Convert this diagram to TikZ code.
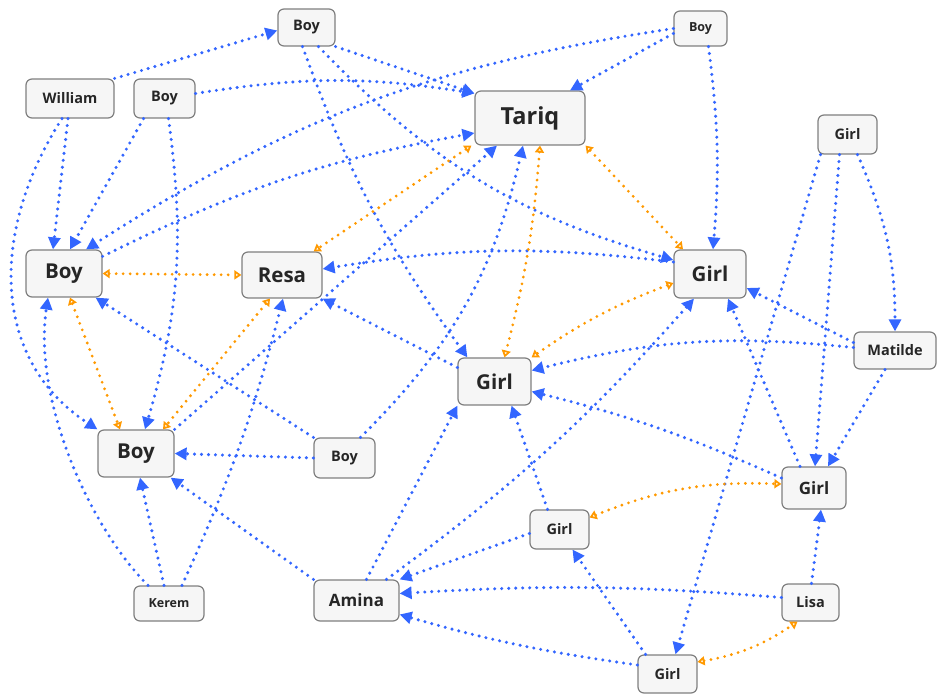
\documentclass[tikz,border=0pt]{standalone}
\usepackage{fontspec}
\setmainfont{Open Sans}
\usetikzlibrary{arrows.meta}

\definecolor{linkblue}{HTML}{3366FF}
\definecolor{pairorange}{HTML}{FF9900}
\definecolor{boxline}{HTML}{7F7F7F}
\definecolor{boxfill}{HTML}{F6F6F6}
\definecolor{boxtext}{HTML}{262626}

\begin{document}
\begin{tikzpicture}
   [x=1pt,y=1pt,
    person/.style={rectangle,rounded corners=6pt,draw=boxline,line width=1.2pt,
      fill=boxfill,text=boxtext,inner sep=0pt},
    dims/.style 2 args={minimum width=#1pt,minimum height=#2pt},
    tiny/.style={font=\bfseries\fontsize{12.5}{14}\selectfont},
    small/.style={font=\bfseries\fontsize{14.5}{16}\selectfont},
    mid/.style={font=\bfseries\fontsize{17}{19}\selectfont},
    big/.style={font=\bfseries\fontsize{20.5}{23}\selectfont},
    huge/.style={font=\bfseries\fontsize{23.5}{26}\selectfont},
    link/.style={>={Triangle[length=12pt,width=12pt]},->,draw=linkblue,
      line width=3.4pt,line cap=round,dash pattern=on 0pt off 7pt},
    pair/.style={>={Triangle[open,length=7pt,width=9pt,line width=2.2pt]},<->,
      draw=pairorange,line width=3.1pt,line cap=round,dash pattern=on 0pt off 7pt}]

\useasboundingbox (0,0) rectangle (937,694);

\node [person,small,dims={57}{37}] (boy1) at (306.5,666.5) {Boy};
\node [person,tiny,dims={53}{35}] (boy2) at (700.5,665.5) {Boy};
\node [person,small,dims={88}{39}] (william) at (70,595.5) {William};
\node [person,small,dims={61}{39}] (boy3) at (164.5,595.5) {Boy};
\node [person,huge,dims={110}{54}] (tariq) at (530,576) {Tariq};
\node [person,small,dims={59}{39}] (girl1) at (847.5,559.5) {Girl};
\node [person,big,dims={76}{47}] (boy4) at (64,420.5) {Boy};
\node [person,big,dims={80}{46}] (resa) at (282,419) {Resa};
\node [person,big,dims={72}{48}] (girl2) at (710,420) {Girl};
\node [person,small,dims={82}{37}] (matilde) at (895,343.5) {Matilde};
\node [person,big,dims={73}{47}] (girl3) at (494.5,312.5) {Girl};
\node [person,big,dims={76}{47}] (boy5) at (136,240.5) {Boy};
\node [person,small,dims={61}{40}] (boy6) at (344.5,236) {Boy};
\node [person,mid,dims={64}{42}] (girl4) at (814,206) {Girl};
\node [person,small,dims={59}{39}] (girl5) at (559.5,164.5) {Girl};
\node [person,tiny,dims={70}{35}] (kerem) at (169,90.5) {Kerem};
\node [person,mid,dims={85}{41}] (amina) at (356.5,93.5) {Amina};
\node [person,small,dims={57}{37}] (lisa) at (810.5,91.5) {Lisa};
\node [person,small,dims={59}{38}] (girl6) at (667.5,20) {Girl};

% who points at whom
\draw [link] (william.north east) -- ([yshift=-3pt]boy1.west);
\draw [link] ([xshift=-2pt]william.south) -- ([xshift=-11pt]boy4.north);
\draw [link] ([xshift=-8pt]william.south) .. controls +(-72,-112) and +(-107,70) .. (boy5.north west);
\draw [link] ([xshift=-21pt]boy3.south) -- ([xshift=6pt]boy4.north);
\draw [link] ([xshift=4pt]boy3.south) to [bend left=12] ([xshift=9pt]boy5.north);
\draw [link] ([yshift=5pt]boy3.east) to [bend left=9] ([yshift=-3pt]tariq.north west);
\draw [link] (boy1.south east) -- ([yshift=-3pt]tariq.north west);
\draw [link] ([yshift=-5pt]boy2.west) -- ([xshift=40pt]tariq.north);
\draw [link] (boy2.west) to [bend right=12] ([xshift=22pt]boy4.north);
\draw [link] ([yshift=-7pt]boy4.north east) to [bend left=8] ([yshift=-15pt]tariq.west);
\draw [link] ([xshift=-4pt]boy1.south) to [bend right=8] ([xshift=10pt]girl3.north west);
\draw [link] ([xshift=12pt]boy1.south) to [bend right=15] ([yshift=14pt]girl2.west);
\draw [link] ([xshift=8pt]boy2.south) to [bend left=6] ([xshift=3pt]girl2.north);
\draw [link] ([yshift=12pt]girl2.west) to [bend right=8] ([yshift=6pt]resa.east);
\draw [link] ([xshift=-27pt]girl1.south) -- ([xshift=8pt]girl6.north);
\draw [link] ([xshift=-8pt]girl1.south) -- ([xshift=1pt]girl4.north);
\draw [link] ([xshift=10pt]girl1.south) to [bend left=12] (matilde.north);
\draw [link] ([xshift=-10pt]matilde.south) -- ([xshift=14pt]girl4.north);
\draw [link] ([yshift=8pt]matilde.west) -- ([yshift=-14pt]girl2.east);
\draw [link] ([yshift=3pt]matilde.west) to [bend right=10] ([yshift=11pt]girl3.east);
\draw [link] ([yshift=10pt]girl4.west) to [bend right=5] ([yshift=-10pt]girl3.east);
\draw [link] ([xshift=-14pt]girl4.north) -- ([xshift=18pt]girl2.south);
\draw [link] ([xshift=30pt]amina.north) to [bend right=6] ([xshift=-16pt]girl2.south);
\draw [link] ([xshift=10pt]amina.north) -- (girl3.south west);
\draw [link] ([yshift=-4pt]girl5.west) -- (amina.north east);
\draw [link] ([yshift=5pt]lisa.west) to [bend right=4] ([yshift=7pt]amina.east);
\draw [link] ([yshift=9pt]girl6.west) to [bend left=4] ([yshift=-14pt]amina.east);
\draw [link] ([xshift=-12pt]girl5.north) -- ([xshift=17pt]girl3.south);
\draw [link] ([xshift=-22pt]girl6.north) -- ([xshift=13pt]girl5.south);
\draw [link] ([xshift=1pt]lisa.north) -- ([xshift=7pt]girl4.south);
\draw [link] (boy6.west) -- (boy5.east);
\draw [link] (boy6.north west) -- ([xshift=-7pt]boy4.south east);
\draw [link] ([xshift=16pt]boy6.north) to [bend right=16] ([xshift=-7pt]tariq.south);
\draw [link] (boy5.north east) -- ([xshift=-33pt]tariq.south);
\draw [link] ([xshift=-21pt]kerem.north) .. controls +(-60,60) and +(-15,-100) .. ([xshift=-16pt]boy4.south);
\draw [link] ([xshift=-5pt]kerem.north) -- ([xshift=4pt]boy5.south);
\draw [link] ([xshift=13pt]kerem.north) to [bend right=5] ([xshift=1pt]resa.south);
\draw [link] (amina.north west) -- ([xshift=-4pt]boy5.south east);
\draw [link] ([yshift=14pt]girl3.west) -- (resa.south east);

% both ways
\draw [pair] ([xshift=-3pt]tariq.south west) -- ([xshift=-9pt]resa.north east);
\draw [pair] ([xshift=10pt]tariq.south) to [bend left=5] ([xshift=10pt]girl3.north);
\draw [pair] (tariq.south east) -- ([xshift=-27pt]girl2.north);
\draw [pair] (boy4.east) -- (resa.west);
\draw [pair] ([xshift=6pt]boy4.south) -- ([xshift=-16pt]boy5.north);
\draw [pair] ([xshift=-12pt]resa.south) -- ([xshift=27pt]boy5.north);
\draw [pair] ([yshift=-9pt]girl2.west) to [bend right=7] (girl3.north east);
\draw [pair] ([yshift=12pt]girl5.east) to [bend left=12] ([yshift=4pt]girl4.west);
\draw [pair] ([yshift=12pt]girl6.east) to [bend right=12] ([xshift=-13pt]lisa.south);
\end{tikzpicture}
\end{document}
